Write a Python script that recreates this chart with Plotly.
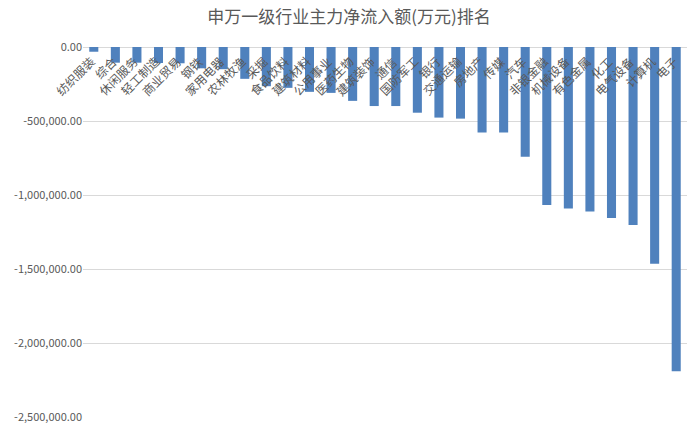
import plotly.graph_objects as go

# Shenwan level-1 industries, ordered as in the chart
industries = [
    '纺织服装', '综合', '休闲服务', '轻工制造', '商业贸易', '钢铁', '家用电器',
    '农林牧渔', '采掘', '食品饮料', '建筑材料', '公用事业', '医药生物', '建筑装饰',
    '通信', '国防军工', '银行', '交通运输', '房地产', '传媒', '汽车', '非银金融',
    '机械设备', '有色金属', '化工', '电气设备', '计算机', '电子',
]

# main net inflow (10k yuan)
net_inflow = [
    -32000, -106000, -106000, -108000, -110000, -144000, -150000,
    -215000, -265000, -276000, -303000, -310000, -364000, -399000,
    -399000, -444000, -477000, -484000, -578000, -578000, -741000, -1067000,
    -1091000, -1111000, -1156000, -1203000, -1464000, -2191000,
]

y_ticks = [0, -500000, -1000000, -1500000, -2000000, -2500000]
y_tick_labels = ['{:,.2f}'.format(v) for v in y_ticks]

font_cjk = 'Noto Sans CJK SC'
grey = 'rgb(89, 89, 89)'

fig = go.Figure()
fig.add_trace(
    go.Bar(
        x=industries,
        y=net_inflow,
        marker={'color': 'rgb(79, 129, 189)', 'line': {'width': 0}},
        showlegend=False,
    )
)

# Category labels sit along the zero line, rotated like Excel does it
for name in industries:
    fig.add_annotation(
        x=name, y=0, xref='x', yref='y',
        text=name, showarrow=False,
        textangle=-45,
        xanchor='right', yanchor='top',
        xshift=7, yshift=-3,
        font={'family': font_cjk, 'size': 12, 'color': grey},
    )

fig.update_layout(
    width=698,
    height=427,
    paper_bgcolor='white',
    plot_bgcolor='white',
    bargap=0.58,
    title={
        'text': '申万一级行业主力净流入额(万元)排名',
        'x': 0.5, 'xanchor': 'center',
        'y': 0.96, 'yanchor': 'middle',
        'font': {'family': font_cjk, 'size': 17, 'color': grey},
    },
    margin={'l': 83, 'r': 11, 't': 47, 'b': 10},
    xaxis=dict(
        type='category',
        range=[-0.5, len(industries) - 0.5],
        showticklabels=False,
        showgrid=False,
        showline=False,
        ticks='',
    ),
    yaxis=dict(
        range=[-2500000, 0],
        tickvals=y_ticks,
        ticktext=y_tick_labels,
        tickfont={'family': font_cjk, 'size': 11, 'color': grey},
        gridcolor='rgb(217, 217, 217)',
        gridwidth=1,
        zeroline=True,
        zerolinecolor='rgb(217, 217, 217)',
        zerolinewidth=1,
        showline=False,
        ticks='',
        ticklen=0,
        automargin=False,
    ),
)

# drop the browser's default body margin so the chart sits at the top-left
fig.write_html(
    'out.html',
    config={'displayModeBar': False},
    post_script="document.body.style.margin='0px';",
)
